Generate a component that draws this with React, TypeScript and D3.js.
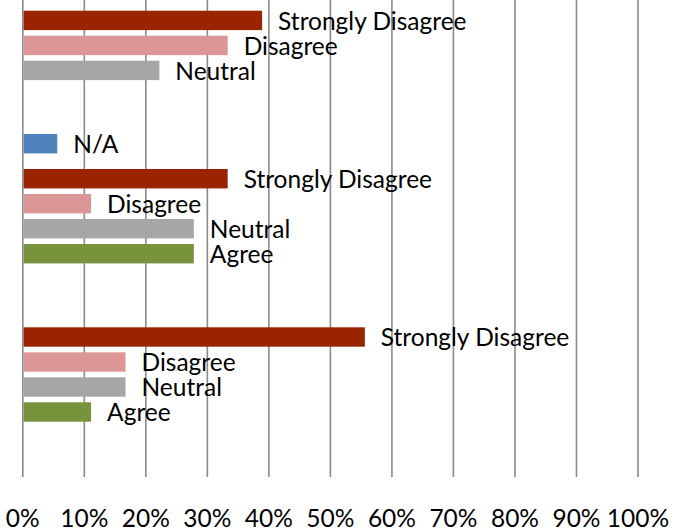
import React from "react";
import * as d3 from "d3";

// ---- data ----
const categories = ["Group 1", "Group 2", "Group 3"];
const seriesNames = ["N/A", "Strongly Disagree", "Disagree", "Neutral", "Agree"];
const naValues = [5.6, 5.6, 0];
const stronglyDisagreeValues = [38.9, 33.3, 55.6];
const disagreeValues = [33.3, 11.1, 16.7];
const neutralValues = [22.2, 27.8, 16.7];
const agreeValues = [0, 27.8, 11.1];
const tickValues = [0, 10, 20, 30, 40, 50, 60, 70, 80, 90, 100];
const tickLabels = ["0%", "10%", "20%", "30%", "40%", "50%", "60%", "70%", "80%", "90%", "100%"];

const seriesColors = ["#4F81BD", "#9A2400", "#DB9695", "#A6A6A6", "#77933C"];
// position of each series inside a group, in bar steps
const seriesSlots = [-1.4, 0, 1, 2, 3];

const W = 677;
const H = 531;
const FONT = "Lato, 'Open Sans', sans-serif";

export default function App() {
  const x = d3.scaleLinear().domain([0, 100]).range([22.8, 638]);
  const yGroup = d3.scalePoint<string>().domain(categories).range([10.7, 327.3]);
  const slot = d3.scaleLinear().domain([0, 1]).range([0, 25]);
  const barH = 19.4;
  const gridBottom = 477;

  const allValues = [naValues, stronglyDisagreeValues, disagreeValues, neutralValues, agreeValues];
  const bars: { key: string; x0: number; x1: number; y: number; color: string; label: string; v: number }[] = [];
  categories.forEach((c, ci) => {
    seriesNames.forEach((s, si) => {
      const v = allValues[si][ci];
      const y = (yGroup(c) as number) + slot(seriesSlots[si]);
      bars.push({ key: c + s, x0: x(0), x1: x(v), y, color: seriesColors[si], label: s, v });
    });
  });

  return (
    <svg
      width={W}
      height={H}
      style={{ position: "absolute", left: 0, top: 0, background: "#fff" }}
      fontFamily={FONT}
    >
      <rect x={0} y={0} width={W} height={H} fill="#fff" />
      {tickValues.map((t) => (
        <line
          key={"g" + t}
          x1={x(t)}
          x2={x(t)}
          y1={0}
          y2={gridBottom}
          stroke="#8A8A8A"
          strokeWidth={1.6}
        />
      ))}
      {bars
        .filter((b) => b.v > 0 && b.y + barH > 0)
        .map((b) => (
          <g key={b.key}>
            <rect x={b.x0 + 0.8} y={b.y} width={b.x1 - b.x0 - 0.8} height={barH} fill={b.color} />
            <text x={b.x1 + 16} y={b.y + 19} fontSize={24.5} fill="#000">
              {b.label}
            </text>
          </g>
        ))}
      {tickValues.map((t, i) => (
        <text key={"t" + t} x={x(t)} y={527} textAnchor="middle" fontSize={24.5} fill="#000">
          {tickLabels[i]}
        </text>
      ))}
    </svg>
  );
}
